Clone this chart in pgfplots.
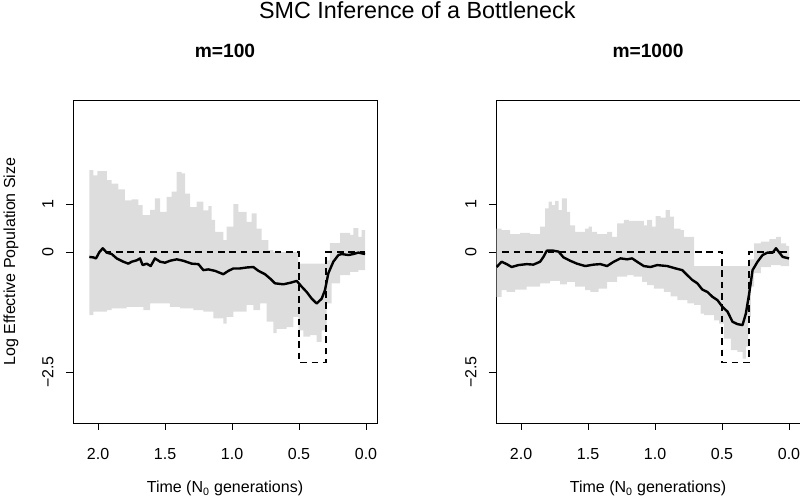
\documentclass[border=0pt]{standalone}
\usepackage{fontspec}
\setmainfont{Liberation Sans}
\usepackage{pgfplots}
\pgfplotsset{compat=1.18}
\definecolor{band}{RGB}{221,221,221}
\pgfplotsset{rstyle/.style={
  width=228pt, height=242.25pt, scale only axis,
  x dir=reverse, xmin=-0.082, xmax=2.187, ymin=-3.56, ymax=3.17,
  axis line style={line width=0.7pt},
  tick align=outside, tick pos=left, major tick length=5.25pt,
  every tick/.style={black, line width=0.7pt},
  xtick={0,0.5,1,1.5,2}, xticklabels={0.0,0.5,1.0,1.5,2.0},
  ytick={-2.5,0,1}, yticklabels={−2.5,0,1},
  tick label style={font=\fontsize{12}{14}\selectfont},
  xticklabel style={anchor=base}, xticklabel shift=22.5pt,
  yticklabel style={rotate=90, anchor=base}, yticklabel shift=9.5pt,
  xlabel={Time (N\textsubscript{0} generations)},
  xlabel style={at={(axis description cs:0.5,-0.2167)}, anchor=base, font=\fontsize{12}{14}\selectfont},
  title style={at={(axis description cs:0.5,1.106)}, anchor=base, font=\fontsize{14.4}{17}\selectfont\bfseries},
  band/.style={draw=none, fill=band},
  truth/.style={black, line width=1.1pt, dash pattern=on 5pt off 3.5pt},
  med/.style={black, line width=1.8pt, line join=round},
}}
\begin{document}
\begin{tikzpicture}
\useasboundingbox (0,0) rectangle (600pt,373.5pt);
\node[anchor=base, font=\fontsize{17.5}{21}\selectfont] at (313pt,359.6pt) {SMC Inference of a Bottleneck};

\begin{axis}[rstyle, at={(54.75pt,56.25pt)}, anchor=south west, title={m=100},
  ylabel={Log Effective Population Size},
  ylabel style={at={(axis description cs:-0.19,0.5)}, anchor=base, font=\fontsize{12}{14}\selectfont}]
\addplot[band] coordinates {
(2.065,1.71)(2.035,1.71)(2.035,1.60)(2.005,1.60)(2.005,1.69)(1.935,1.69)(1.935,1.50)(1.898,1.50)(1.898,1.43)(1.848,1.43)(1.848,1.31)(1.799,1.31)(1.799,1.08)(1.749,1.08)(1.749,1.10)(1.699,1.10)(1.699,0.98)(1.667,0.98)(1.667,0.77)(1.612,0.77)(1.612,0.88)(1.575,0.88)(1.575,1.12)(1.537,1.12)(1.537,0.84)(1.488,0.84)(1.488,1.15)(1.450,1.15)(1.450,1.26)(1.413,1.26)(1.413,1.67)(1.376,1.67)(1.376,1.64)(1.351,1.64)(1.351,1.22)(1.313,1.22)(1.313,0.94)(1.264,0.94)(1.264,1.05)(1.214,1.05)(1.214,0.87)(1.177,0.87)(1.177,0.96)(1.152,0.96)(1.152,0.67)(1.127,0.67)(1.127,0.42)(1.065,0.42)(1.065,0.25)(1.040,0.25)(1.040,0.53)(0.990,0.53)(0.990,1.00)(0.953,1.00)(0.953,0.84)(0.891,0.84)(0.891,0.63)(0.853,0.63)(0.853,0.81)(0.816,0.81)(0.816,0.49)(0.779,0.49)(0.779,0.25)(0.729,0.25)(0.729,0.04)(0.692,0.04)(0.692,0.0)(0.505,0.0)(0.505,-0.24)(0.294,-0.24)(0.294,-0.17)(0.269,-0.17)(0.269,0.19)(0.194,0.19)(0.194,0.40)(0.119,0.40)(0.119,0.36)(0.095,0.36)(0.095,0.50)(0.057,0.50)(0.057,0.32)(0.032,0.32)(0.032,0.46)(0.007,0.46)
(0.007,-0.375)(0.057,-0.375)(0.057,-0.41)(0.119,-0.41)(0.119,-0.48)(0.194,-0.48)(0.194,-0.65)(0.256,-0.65)(0.256,-1.07)(0.294,-1.07)(0.294,-1.63)(0.331,-1.63)(0.331,-1.87)(0.368,-1.87)(0.368,-1.73)(0.418,-1.73)(0.418,-1.76)(0.468,-1.76)(0.468,-1.63)(0.505,-1.63)(0.505,-1.35)(0.542,-1.35)(0.542,-1.56)(0.592,-1.56)(0.592,-1.60)(0.667,-1.60)(0.667,-1.69)(0.692,-1.69)(0.692,-1.45)(0.741,-1.45)(0.741,-1.07)(0.791,-1.07)(0.791,-1.21)(0.841,-1.21)(0.841,-1.10)(0.891,-1.10)(0.891,-1.24)(0.990,-1.24)(0.990,-1.35)(1.040,-1.35)(1.040,-1.49)(1.065,-1.49)(1.065,-1.38)(1.139,-1.38)(1.139,-1.24)(1.214,-1.24)(1.214,-1.21)(1.289,-1.21)(1.289,-1.17)(1.388,-1.17)(1.388,-1.14)(1.463,-1.14)(1.463,-1.07)(1.612,-1.07)(1.612,-1.21)(1.662,-1.21)(1.662,-1.14)(1.786,-1.14)(1.786,-1.17)(1.898,-1.17)(1.898,-1.21)(1.935,-1.21)(1.935,-1.24)(2.035,-1.24)(2.035,-1.31)(2.065,-1.31)(2.065,1.71)};
\addplot[truth] coordinates {(1.95,0)(0.5,0)(0.5,-2.303)(0.3,-2.303)(0.3,0)(0.007,0)};
\addplot[med] coordinates {
(2.065,-0.10)(2.035,-0.11)(2.015,-0.13)(1.990,0.0)(1.965,0.08)(1.935,-0.01)(1.898,-0.04)(1.861,-0.13)(1.811,-0.20)(1.774,-0.24)(1.749,-0.20)(1.711,-0.17)(1.687,-0.13)(1.667,-0.27)(1.637,-0.24)(1.607,-0.29)(1.575,-0.13)(1.537,-0.20)(1.500,-0.22)(1.463,-0.18)(1.413,-0.15)(1.363,-0.18)(1.301,-0.24)(1.251,-0.25)(1.214,-0.375)(1.177,-0.36)(1.127,-0.39)(1.065,-0.46)(1.027,-0.39)(0.990,-0.34)(0.940,-0.34)(0.891,-0.32)(0.841,-0.31)(0.803,-0.39)(0.754,-0.46)(0.716,-0.55)(0.679,-0.65)(0.617,-0.67)(0.567,-0.64)(0.517,-0.60)(0.480,-0.72)(0.443,-0.83)(0.405,-0.97)(0.368,-1.07)(0.331,-0.97)(0.306,-0.79)(0.281,-0.44)(0.244,-0.20)(0.206,-0.06)(0.182,-0.04)(0.132,-0.06)(0.095,-0.04)(0.057,-0.01)(0.007,-0.04)};
\end{axis}

\begin{axis}[rstyle, at={(372pt,56.25pt)}, anchor=south west, title={m=1000}]
\addplot[band] coordinates {
(2.182,0.49)(2.145,0.49)(2.145,0.46)(2.082,0.46)(2.082,0.375)(2.007,0.375)(2.007,0.40)(1.933,0.40)(1.933,0.375)(1.858,0.375)(1.858,0.53)(1.820,0.53)(1.820,0.91)(1.795,0.91)(1.795,1.05)(1.770,1.05)(1.770,0.98)(1.745,0.98)(1.745,1.07)(1.720,1.07)(1.720,0.875)(1.695,0.875)(1.695,1.12)(1.658,1.12)(1.658,0.84)(1.633,0.84)(1.633,0.56)(1.596,0.56)(1.596,0.42)(1.521,0.42)(1.521,0.49)(1.496,0.49)(1.496,0.53)(1.471,0.53)(1.471,0.42)(1.433,0.42)(1.433,0.375)(1.358,0.375)(1.358,0.42)(1.321,0.42)(1.321,0.32)(1.283,0.32)(1.283,0.60)(1.233,0.60)(1.233,0.67)(1.196,0.67)(1.196,0.65)(1.084,0.65)(1.084,0.56)(1.059,0.56)(1.059,0.67)(1.021,0.67)(1.021,0.53)(0.996,0.53)(0.996,0.75)(0.959,0.75)(0.959,0.72)(0.921,0.72)(0.921,0.875)(0.889,0.875)(0.889,0.74)(0.859,0.74)(0.859,0.49)(0.809,0.49)(0.809,0.46)(0.784,0.46)(0.784,0.32)(0.709,0.32)(0.709,-0.29)(0.297,-0.29)(0.297,-0.15)(0.260,-0.15)(0.260,0.18)(0.210,0.18)(0.210,0.22)(0.147,0.22)(0.147,0.27)(0.097,0.27)(0.097,0.32)(0.060,0.32)(0.060,0.18)(0.022,0.18)(0.022,0.13)(0.0,0.13)
(0.0,-0.29)(0.060,-0.29)(0.060,-0.27)(0.135,-0.27)(0.135,-0.31)(0.210,-0.31)(0.210,-0.44)(0.260,-0.44)(0.260,-0.72)(0.285,-0.72)(0.285,-1.35)(0.305,-1.35)(0.305,-1.97)(0.322,-1.97)(0.322,-2.22)(0.347,-2.22)(0.347,-2.08)(0.385,-2.08)(0.385,-2.04)(0.434,-2.04)(0.434,-1.80)(0.484,-1.80)(0.484,-1.49)(0.522,-1.49)(0.522,-1.42)(0.559,-1.42)(0.559,-1.31)(0.634,-1.31)(0.634,-1.28)(0.659,-1.28)(0.659,-1.10)(0.709,-1.10)(0.709,-1.07)(0.759,-1.07)(0.759,-1.0)(0.834,-1.0)(0.834,-0.92)(0.884,-0.92)(0.884,-0.83)(0.934,-0.83)(0.934,-0.76)(1.009,-0.76)(1.009,-0.69)(1.059,-0.69)(1.059,-0.62)(1.096,-0.62)(1.096,-0.51)(1.159,-0.51)(1.159,-0.48)(1.208,-0.48)(1.208,-0.51)(1.283,-0.51)(1.283,-0.62)(1.358,-0.62)(1.358,-0.76)(1.421,-0.76)(1.421,-0.83)(1.483,-0.83)(1.483,-0.79)(1.521,-0.79)(1.521,-0.72)(1.596,-0.72)(1.596,-0.62)(1.658,-0.62)(1.658,-0.67)(1.708,-0.67)(1.708,-0.60)(1.783,-0.60)(1.783,-0.65)(1.858,-0.65)(1.858,-0.72)(1.958,-0.72)(1.958,-0.78)(2.045,-0.78)(2.045,-0.83)(2.107,-0.83)(2.107,-0.79)(2.145,-0.79)(2.145,-0.93)(2.182,-0.93)(2.182,0.49)};
\addplot[truth] coordinates {(2.14,0)(0.5,0)(0.5,-2.303)(0.3,-2.303)(0.3,0)(0.0,0)};
\addplot[med] coordinates {
(2.182,-0.31)(2.145,-0.20)(2.107,-0.25)(2.070,-0.31)(2.020,-0.27)(1.958,-0.25)(1.908,-0.26)(1.858,-0.20)(1.833,-0.10)(1.808,0.03)(1.758,0.03)(1.720,0.01)(1.683,-0.11)(1.633,-0.18)(1.583,-0.24)(1.521,-0.29)(1.458,-0.26)(1.408,-0.25)(1.358,-0.29)(1.308,-0.20)(1.258,-0.13)(1.208,-0.15)(1.171,-0.13)(1.134,-0.20)(1.084,-0.29)(1.034,-0.31)(0.984,-0.27)(0.909,-0.29)(0.846,-0.34)(0.797,-0.375)(0.759,-0.48)(0.722,-0.58)(0.684,-0.65)(0.647,-0.78)(0.609,-0.83)(0.572,-0.93)(0.534,-1.0)(0.497,-1.14)(0.459,-1.24)(0.422,-1.45)(0.385,-1.50)(0.347,-1.52)(0.322,-1.28)(0.297,-0.86)(0.272,-0.375)(0.235,-0.20)(0.197,-0.06)(0.160,-0.01)(0.122,-0.01)(0.097,0.08)(0.072,-0.01)(0.047,-0.10)(0.0,-0.13)};
\end{axis}
\end{tikzpicture}
\end{document}
